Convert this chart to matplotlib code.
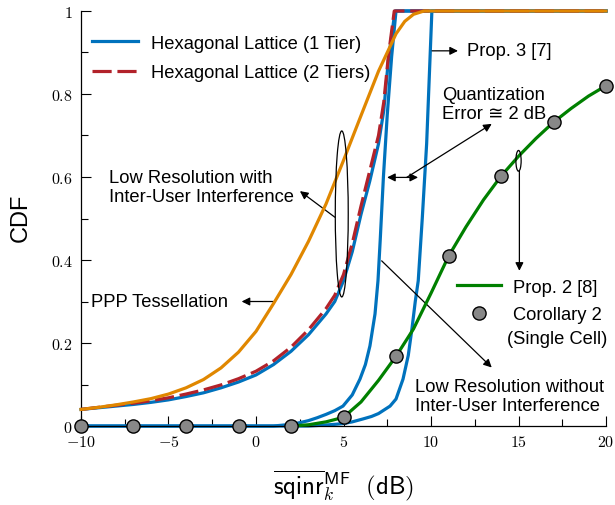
import matplotlib
matplotlib.use('Agg')
import matplotlib.pyplot as plt
from matplotlib.patches import Ellipse
from matplotlib.ticker import MultipleLocator
from matplotlib.lines import Line2D

plt.rcParams['font.family'] = ['Liberation Sans', 'DejaVu Sans']
plt.rcParams['mathtext.fontset'] = 'cm'

# PPP tessellation (orange)
ppp_x = [-10, -9, -8, -7, -6, -5, -4, -3, -2, -1, 0, 1, 2, 3, 4, 5, 6, 7, 7.5, 8, 8.5, 9, 9.6, 20]
ppp_y = [0.04, 0.045, 0.051, 0.058, 0.066, 0.077, 0.092, 0.112, 0.14, 0.178, 0.228, 0.295, 0.365,
         0.445, 0.535, 0.64, 0.748, 0.855, 0.9, 0.945, 0.975, 0.992, 1.0, 1.0]

# hexagonal lattice, 1 tier (blue)
hex1_x = [-10, -9, -8, -7, -6, -5, -4, -3, -2, -1, 0, 1, 2, 3, 4, 4.5, 5.0, 5.5, 6.0, 6.5, 7.0, 7.3, 7.56, 7.94, 20]
hex1_y = [0.04, 0.044, 0.048, 0.052, 0.057, 0.063, 0.071, 0.08, 0.092, 0.106, 0.123, 0.148, 0.18,
          0.22, 0.27, 0.3, 0.35, 0.42, 0.51, 0.59, 0.68, 0.76, 0.88, 1.0, 1.0]

# hexagonal lattice, 2 tiers (red dashed)
hex2_x = [-10, -9, -8, -7, -6, -5, -4, -3, -2, -1, 0, 1, 2, 3, 4, 4.5, 5.0, 5.5, 6.0, 6.5, 7.0, 7.3, 7.56, 7.9, 20]
hex2_y = [0.04, 0.045, 0.05, 0.055, 0.061, 0.068, 0.077, 0.087, 0.099, 0.114, 0.132, 0.157, 0.19,
          0.232, 0.283, 0.315, 0.365, 0.44, 0.53, 0.615, 0.7, 0.78, 0.89, 1.0, 1.0]

# low resolution without inter-user interference (blue)
lowres_x = [-10, 1.0, 2.0, 2.5, 3.0, 3.5, 4.0, 4.5, 4.97, 5.5, 5.94, 6.25, 6.51, 6.8, 6.97, 7.1, 7.28, 7.5, 7.75, 8.0, 20]
lowres_y = [0, 0, 0.004, 0.008, 0.013, 0.02, 0.028, 0.037, 0.048, 0.075, 0.113, 0.148, 0.193, 0.27,
            0.35, 0.45, 0.6, 0.75, 0.89, 1.0, 1.0]

# Prop. 3 [7] (blue)
prop3_x = [-10, 3.0, 3.83, 4.5, 5.0, 5.5, 6.11, 6.6, 7.0, 7.66, 8.0, 8.4, 8.7, 8.91, 9.1, 9.27, 9.5, 9.75, 9.9, 10.05, 20]
prop3_y = [0, 0, 0.002, 0.004, 0.006, 0.01, 0.017, 0.023, 0.03, 0.048, 0.065, 0.113, 0.17, 0.234,
           0.3, 0.35, 0.5, 0.68, 0.84, 1.0, 1.0]

# Prop. 2 [8] (green)
prop2_x = [2, 3, 4, 5, 6, 7, 8, 9, 10, 11, 12, 13, 14, 15, 16, 17, 18, 19, 20]
prop2_y = [0.0, 0.003, 0.01, 0.021, 0.058, 0.11, 0.168, 0.234, 0.32, 0.409, 0.48, 0.545, 0.602, 0.65, 0.693, 0.732, 0.765, 0.795, 0.82]

# Corollary 2 (single cell) markers
cor2_x = [-10, -7, -4, -1, 2, 5, 8, 11, 14, 17, 20]
cor2_y = [0, 0, 0, 0, 0, 0.021, 0.168, 0.409, 0.602, 0.732, 0.82]

xticks = [-10, -5, 0, 5, 10, 15, 20]
xticklabels = ['$-10$', '$-5$', '$0$', '$5$', '$10$', '$15$', '$20$']
yticks = [0, 0.2, 0.4, 0.6, 0.8, 1]
yticklabels = ['$0$', '$0.2$', '$0.4$', '$0.6$', '$0.8$', '$1$']

blue = '#0072BD'
orange = '#E08700'
red = '#B2222A'
green = '#008000'
lw = 2.3

fig = plt.figure(figsize=(6.15, 5.06), dpi=100)
ax = fig.add_axes([0.1317, 0.1561, 0.8537, 0.8202])

ax.plot(prop3_x, prop3_y, color=blue, lw=lw, clip_on=False, zorder=2)
ax.plot(lowres_x, lowres_y, color=blue, lw=lw, clip_on=False, zorder=2)
ax.plot(hex1_x, hex1_y, color=blue, lw=lw, clip_on=False, zorder=2)
ax.plot(hex2_x, hex2_y, color=red, lw=lw, dashes=(6, 1.8), clip_on=False, zorder=3)
ax.plot(ppp_x, ppp_y, color=orange, lw=lw, clip_on=False, zorder=4)
ax.plot(prop2_x, prop2_y, color=green, lw=lw, clip_on=False, zorder=5)
ax.plot(cor2_x, cor2_y, 'o', ms=9.5, mfc='#888888', mec='k', mew=1.0,
        clip_on=False, zorder=6)

ax.set_xlim(-10, 20)
ax.set_ylim(0, 1)
ax.set_xticks(xticks)
ax.set_xticklabels(xticklabels)
ax.set_yticks(yticks)
ax.set_yticklabels(yticklabels)
ax.xaxis.set_minor_locator(MultipleLocator(2.5))
ax.yaxis.set_minor_locator(MultipleLocator(0.1))
ax.tick_params(which='both', direction='in', width=0.8, labelsize=11.5)
ax.tick_params(which='major', length=7.5)
ax.tick_params(which='minor', length=5)
ax.tick_params(axis='x', pad=6)
ax.tick_params(axis='y', pad=6)
for s in ['top', 'right']:
    ax.spines[s].set_visible(False)
for s in ['left', 'bottom']:
    ax.spines[s].set_linewidth(0.9)

ax.set_ylabel('CDF', fontsize=17)
ax.yaxis.set_label_coords(-0.093, 0.504)
ax.set_xlabel(r'$\overline{\mathsf{sqinr}}_{k}^{\mathsf{MF}}\ \ (\mathsf{dB})$', fontsize=18)
ax.xaxis.set_label_coords(0.5, -0.1)

# legends
h1 = [Line2D([], [], color=blue, lw=lw),
      Line2D([], [], color=red, lw=lw, dashes=(6, 1.8))]
leg1 = ax.legend(h1, ['Hexagonal Lattice (1 Tier)', 'Hexagonal Lattice (2 Tiers)'],
                 loc='upper left', bbox_to_anchor=(0.021, 0.943), frameon=False,
                 fontsize=13.2, handlelength=2.5, handletextpad=0.7,
                 labelspacing=0.68, borderpad=0, borderaxespad=0)
ax.add_artist(leg1)
h2 = [Line2D([], [], color=green, lw=lw),
      Line2D([], [], ls='none', marker='o', ms=9.5, mfc='#888888', mec='k', mew=1.0)]
ax.legend(h2, ['Prop. 2 [8]', 'Corollary 2'],
          loc='upper left', bbox_to_anchor=(0.716, 0.355), frameon=False,
          fontsize=13.2, handlelength=2.4, handletextpad=0.65,
          labelspacing=0.57, borderpad=0, borderaxespad=0)
ax.text(14.34, 0.21, '(Single Cell)', fontsize=13.2, ha='left', va='center')

# annotations
arr = dict(arrowstyle='-|>', color='k', lw=0.9, mutation_scale=12,
           shrinkA=0, shrinkB=0)
ax.text(-8.4, 0.575, 'Low Resolution with\nInter-User Interference',
        fontsize=13.2, ha='left', va='center', linespacing=1.15)
ax.annotate('', xy=(2.51, 0.566), xytext=(4.51, 0.503), arrowprops=arr)
ax.add_patch(Ellipse((4.9, 0.511), 0.74, 0.4, fill=False, ec='k', lw=0.9, zorder=7))

ax.text(-9.43, 0.299, 'PPP Tessellation', fontsize=13.2, ha='left', va='center')
ax.annotate('', xy=(-0.82, 0.3), xytext=(0.99, 0.3), arrowprops=arr)

ax.text(12.06, 0.906, 'Prop. 3 [7]', fontsize=13.2, ha='left', va='center')
ax.annotate('', xy=(11.54, 0.904), xytext=(10.06, 0.904), arrowprops=arr)

ax.text(10.63, 0.775, 'Quantization\nError \u2245 2 dB', fontsize=13.2,
        ha='left', va='center', linespacing=1.15)
ax.annotate('', xy=(9.26, 0.599), xytext=(7.49, 0.599),
            arrowprops=dict(arr, arrowstyle='<|-|>'))
ax.annotate('', xy=(13.47, 0.728), xytext=(8.61, 0.599), arrowprops=arr)

ax.text(9.09, 0.072, 'Low Resolution without\nInter-User Interference',
        fontsize=13.2, ha='left', va='center', linespacing=1.15)
ax.annotate('', xy=(13.47, 0.141), xytext=(7.18, 0.398), arrowprops=arr)

ax.add_patch(Ellipse((15.0, 0.639), 0.3, 0.05, fill=False, ec='k', lw=0.9, zorder=7))
ax.annotate('', xy=(15.05, 0.374), xytext=(15.05, 0.615), arrowprops=arr)

fig.savefig('out.png', dpi=100)
